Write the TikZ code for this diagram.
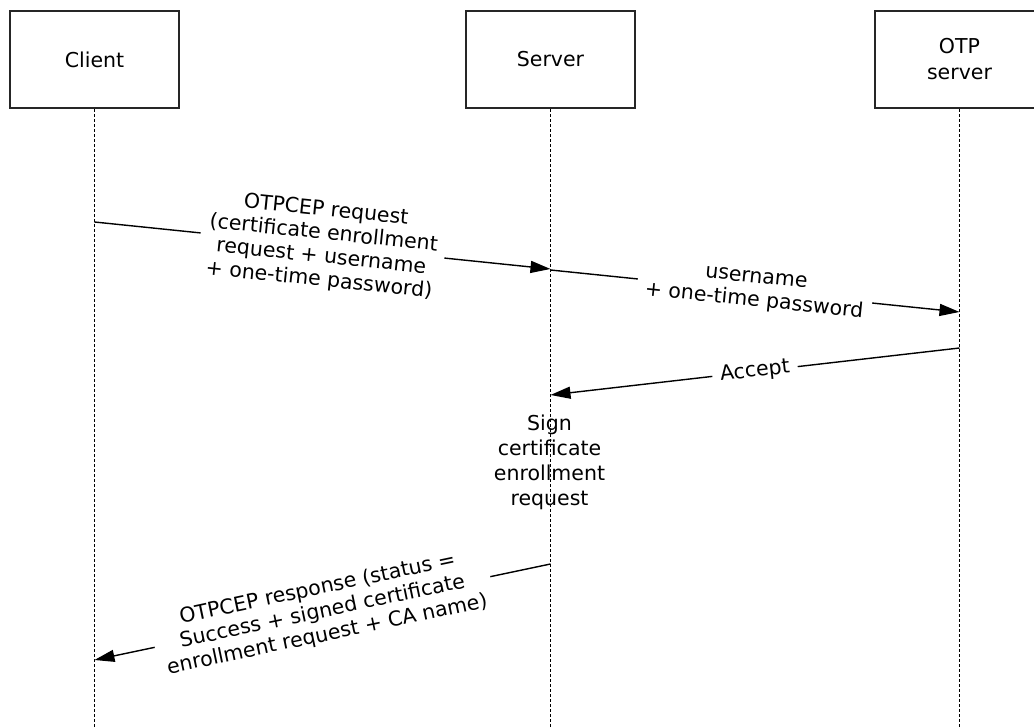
\documentclass[tikz,border=0pt]{standalone}
\usepackage{fontspec}
\setmainfont{DejaVu Sans}
\usetikzlibrary{arrows.meta}

\tikzset{
  actor/.style={draw=black!85, line width=1.6pt, minimum width=169pt,
    minimum height=97pt, align=center, inner sep=0pt,
    font=\fontsize{20.5}{26}\selectfont},
  lifeline/.style={draw=black, line width=1pt, dash pattern=on 3pt off 2pt},
  msg/.style={draw=black, line width=1.4pt,
    -{Triangle[length=20pt,width=12pt]}},
  lbl/.style={sloped, fill=white, align=center, inner xsep=8pt, inner ysep=2pt,
    font=\fontsize{20.5}{23.5}\selectfont},
  note/.style={align=center, inner sep=0pt, font=\fontsize{20.5}{25}\selectfont}
}

\begin{document}
\begin{tikzpicture}[x=1pt, y=-1pt]
  \useasboundingbox (0,0) rectangle (1034,727);
  \clip (0,0) rectangle (1034,727);

  % participants
  \node[actor] (client) at (94.5,59.5) {Client};
  \node[actor] (server) at (550.5,59.5) {Server};
  \node[actor] (otp)    at (959.5,59.5) {OTP\\server};

  % lifeline ends at the bottom edge
  \coordinate (clientEnd) at (94.5,727);
  \coordinate (serverEnd) at (550.5,727);
  \coordinate (otpEnd)    at (959.5,727);

  \draw[lifeline] (client.south) -- (clientEnd);
  \draw[lifeline] (server.south) -- (serverEnd);
  \draw[lifeline] (otp.south)    -- (otpEnd);

  % message end points on the lifelines
  \coordinate (c1) at (94.5,222);
  \coordinate (s1) at (550.5,269);
  \coordinate (s2) at (550.5,270);
  \coordinate (o2) at (959.5,312);
  \coordinate (o3) at (959.5,348);
  \coordinate (s3) at (550.5,395);
  \coordinate (s5) at (550.5,564);
  \coordinate (c5) at (94.5,660);

  % messages
  \draw[msg] (c1) -- node[lbl] {OTPCEP request\\(certificate enrollment\\request + username\\+ one-time password)} (s1);
  \draw[msg] (s2) -- node[lbl] {username\\+ one-time password} (o2);
  \draw[msg] (o3) -- node[lbl] {Accept} (s3);

  % local processing at the server
  \node[note] (sign) at (549.5,462.5) {Sign\\certificate\\enrollment\\request};

  \draw[msg] (s5) -- node[lbl] {OTPCEP response (status =\\Success + signed certificate\\enrollment request + CA name)} (c5);
\end{tikzpicture}
\end{document}
